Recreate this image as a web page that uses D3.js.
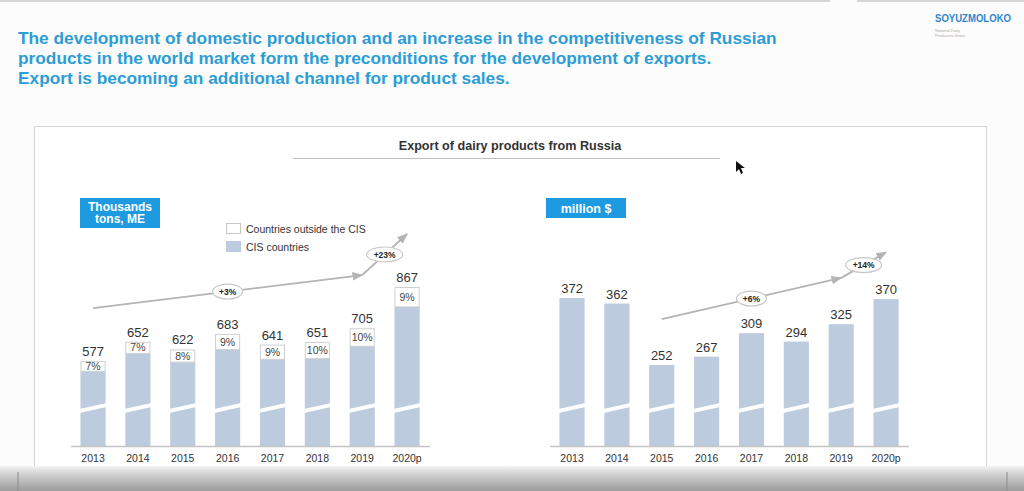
<!DOCTYPE html>
<html>
<head>
<meta charset="utf-8">
<script src="https://cdn.jsdelivr.net/npm/d3@7/dist/d3.min.js"></script>
<style>
  body { margin: 0; background: #fcfcfc; }
  svg { display: block; font-family: "Liberation Sans", Arial, sans-serif; }
</style>
</head>
<body>
<svg id="chart" width="1024" height="491"></svg>
<script>
// data
const years = ['2013', '2014', '2015', '2016', '2017', '2018', '2019', '2020p'];
const volume = [577, 652, 622, 683, 641, 651, 705, 867];      // thousand tons, ME
const outsideShare = [7, 7, 8, 9, 9, 10, 10, 9];              // % to countries outside the CIS
const valueUsd = [372, 362, 252, 267, 309, 294, 325, 370];    // million $

// growth arrows: [from year, level] -> [to year, level], label
const volumeTrend = [
  {from: '2013', to: '2019', y0: 784, y1: 914, label: '+3%'},
  {from: '2019', to: '2020p', y0: 914, y1: 1075, label: '+23%'}
];
const valueTrend = [
  {from: '2015', to: '2019', y0: 334, y1: 408, label: '+6%'},
  {from: '2019', to: '2020p', y0: 408, y1: 454, label: '+14%'}
];

const headerLines = [
  'The development of domestic production and an increase in the competitiveness of Russian',
  'products in the world market form the preconditions for the development of exports.',
  'Export is becoming an additional channel for product sales.'
];

const barColor = '#bccbdd';
const blue = '#1d9ae0';
const arrowGray = '#b4b4b4';
const baseline = 446;

const svg = d3.select('#chart');
const defs = svg.append('defs');

defs.append('marker')
  .attr('id', 'head')
  .attr('viewBox', '0 0 10 10')
  .attr('refX', 9).attr('refY', 5)
  .attr('markerWidth', 6).attr('markerHeight', 6)
  .attr('orient', 'auto')
  .append('path').attr('d', 'M0,1 L10,5 L0,9 Z').attr('fill', arrowGray);

const grad = defs.append('linearGradient').attr('id', 'shade')
  .attr('x1', 0).attr('y1', 0).attr('x2', 0).attr('y2', 1);
grad.append('stop').attr('offset', '0%').attr('stop-color', '#f4f4f4');
grad.append('stop').attr('offset', '25%').attr('stop-color', '#d8d8d8');
grad.append('stop').attr('offset', '100%').attr('stop-color', '#9c9c9c');

// top edge of the screen
svg.append('rect').attr('x', 0).attr('y', 0).attr('width', 830).attr('height', 2).attr('fill', '#d6d6d6');
svg.append('rect').attr('x', 857).attr('y', 0).attr('width', 167).attr('height', 2).attr('fill', '#d6d6d6');

// header
svg.append('g').selectAll('text')
  .data(headerLines)
  .enter().append('text')
  .attr('x', 18)
  .attr('y', (d, i) => 44 + i * 20)
  .attr('fill', '#2c9dd6')
  .attr('font-size', 17.3)
  .attr('font-weight', 'bold')
  .text(d => d);

// logo
svg.append('text').attr('x', 935).attr('y', 22)
  .attr('fill', '#2f86c8').attr('font-size', 10.5).attr('font-weight', 'bold')
  .attr('textLength', 76).attr('lengthAdjust', 'spacingAndGlyphs')
  .text('SOYUZMOLOKO');
svg.append('text').attr('x', 935).attr('y', 32)
  .attr('fill', '#aaa').attr('font-size', 4).text('National Dairy');
svg.append('text').attr('x', 935).attr('y', 37)
  .attr('fill', '#aaa').attr('font-size', 4).text('Producers Union');

// panel
svg.append('rect')
  .attr('x', 34.5).attr('y', 126.5).attr('width', 952).attr('height', 360)
  .attr('fill', '#ffffff').attr('stroke', '#d4d4d4');

svg.append('text').attr('x', 510).attr('y', 150)
  .attr('text-anchor', 'middle').attr('fill', '#333').attr('font-size', 12.6).attr('font-weight', 'bold')
  .text('Export of dairy products from Russia');
svg.append('line').attr('x1', 293).attr('x2', 720).attr('y1', 158.5).attr('y2', 158.5)
  .attr('stroke', '#bdbdbd').attr('stroke-width', 1.2);

// mouse cursor
svg.append('path')
  .attr('d', 'M736,161 L736,172 L739,169 L741,174 L743,173 L741,168 L745,168 Z')
  .attr('fill', '#111');

function unitBox(x, y, w, h, size, lines) {
  svg.append('rect').attr('x', x).attr('y', y).attr('width', w).attr('height', h)
    .attr('fill', blue);
  svg.append('g').selectAll('text').data(lines).enter().append('text')
    .attr('x', x + w / 2)
    .attr('y', (d, i) => y + h / 2 + size * 0.36 + (i - (lines.length - 1) / 2) * 12)
    .attr('text-anchor', 'middle')
    .attr('fill', '#fff').attr('font-size', size).attr('font-weight', 'bold')
    .text(d => d);
}

function buildChart(opts) {
  const x = d3.scaleBand()
    .domain(years)
    .range(opts.xRange)
    .paddingInner(0.44)
    .paddingOuter(0.22);

  const y = d3.scaleLinear()
    .domain(opts.yDomain)
    .range([baseline, opts.topPx]);

  const g = svg.append('g');
  const rows = years.map((yr, i) => ({
    year: yr,
    total: opts.values[i],
    share: opts.shares ? opts.shares[i] : null
  }));

  // CIS part (or whole bar)
  g.selectAll('rect.bar')
    .data(rows)
    .enter().append('rect')
    .attr('class', 'bar')
    .attr('x', d => x(d.year))
    .attr('width', x.bandwidth())
    .attr('y', d => d.share == null ? y(d.total) : y(d.total * (1 - d.share / 100)))
    .attr('height', d => baseline - (d.share == null ? y(d.total) : y(d.total * (1 - d.share / 100))))
    .attr('fill', barColor);

  // outside CIS part with share
  if (opts.shares) {
    const seg = g.selectAll('g.share')
      .data(rows)
      .enter().append('g').attr('class', 'share');
    seg.append('rect')
      .attr('x', d => x(d.year) + 0.5)
      .attr('width', x.bandwidth() - 1)
      .attr('y', d => y(d.total) + 0.5)
      .attr('height', d => y(d.total * (1 - d.share / 100)) - y(d.total) - 0.5)
      .attr('fill', '#fff')
      .attr('stroke', '#cfcfcf');
    seg.append('text')
      .attr('x', d => x(d.year) + x.bandwidth() / 2)
      .attr('y', d => (y(d.total) + y(d.total * (1 - d.share / 100))) / 2 + 3.8)
      .attr('text-anchor', 'middle')
      .attr('fill', '#444').attr('font-size', 10.5)
      .text(d => d.share + '%');
  }

  // axis break stripe
  g.selectAll('path.brk')
    .data(rows)
    .enter().append('path')
    .attr('class', 'brk')
    .attr('d', d => {
      const x0 = x(d.year) - 1, x1 = x(d.year) + x.bandwidth() + 1, c = baseline - 38;
      return `M${x0},${c + 1} L${x1},${c - 5} L${x1},${c - 1} L${x0},${c + 5} Z`;
    })
    .attr('fill', '#fff');

  // totals
  g.selectAll('text.val')
    .data(rows)
    .enter().append('text')
    .attr('class', 'val')
    .attr('x', d => x(d.year) + x.bandwidth() / 2)
    .attr('y', d => y(d.total) - 5)
    .attr('text-anchor', 'middle')
    .attr('fill', '#333').attr('font-size', 13)
    .text(d => d.total);

  // x axis
  const axis = g.append('g')
    .attr('transform', `translate(0,${baseline})`)
    .call(d3.axisBottom(x).tickSize(0).tickPadding(9));
  axis.select('.domain').attr('stroke', '#c4c4c4').attr('stroke-width', 1.3);
  axis.selectAll('text').attr('fill', '#333').attr('font-size', 10.5)
    .attr('font-family', '"Liberation Sans", Arial, sans-serif');

  // growth arrows
  const cx = yr => x(yr) + x.bandwidth() / 2;
  opts.trend.forEach(t => {
    g.append('line')
      .attr('x1', cx(t.from)).attr('y1', y(t.y0))
      .attr('x2', cx(t.to)).attr('y2', y(t.y1))
      .attr('stroke', arrowGray).attr('stroke-width', 1.8)
      .attr('marker-end', 'url(#head)');
  });
  opts.trend.forEach(t => {
    const mx = (cx(t.from) + cx(t.to)) / 2;
    const my = (y(t.y0) + y(t.y1)) / 2;
    const rx = t.label.length > 3 ? 18 : 15;
    g.append('ellipse').attr('cx', mx).attr('cy', my).attr('rx', rx).attr('ry', 7.5)
      .attr('fill', '#fff').attr('stroke', '#c8c8c8').attr('stroke-width', 1.2);
    g.append('text').attr('x', mx).attr('y', my + 3.2)
      .attr('text-anchor', 'middle').attr('fill', '#222')
      .attr('font-size', 8.5).attr('font-weight', 'bold')
      .text(t.label);
  });
}

unitBox(80, 198, 80, 30, 12, ['Thousands', 'tons, ME']);
unitBox(546, 198, 80, 20, 12.5, ['million $']);

// legend
svg.append('rect').attr('x', 226.5).attr('y', 223.5).attr('width', 14).attr('height', 10)
  .attr('fill', '#fff').attr('stroke', '#c8c8c8');
svg.append('rect').attr('x', 226).attr('y', 241).attr('width', 15).attr('height', 11)
  .attr('fill', barColor);
svg.append('text').attr('x', 246).attr('y', 232.5).attr('font-size', 10.5).attr('fill', '#333')
  .text('Countries outside the CIS');
svg.append('text').attr('x', 246).attr('y', 250.5).attr('font-size', 10.5).attr('fill', '#333')
  .text('CIS countries');

buildChart({
  xRange: [70.6, 429.5],
  yDomain: [243, 867],
  topPx: 287,
  values: volume,
  shares: outsideShare,
  trend: volumeTrend
});

buildChart({
  xRange: [549.6, 908.5],
  yDomain: [107, 372],
  topPx: 298,
  values: valueUsd,
  shares: null,
  trend: valueTrend
});

// bottom of the screen
svg.append('rect').attr('x', 0).attr('y', 466).attr('width', 1024).attr('height', 25)
  .attr('fill', 'url(#shade)');
svg.append('line').attr('x1', 18).attr('x2', 18).attr('y1', 472).attr('y2', 491).attr('stroke', '#8c8c8c');
svg.append('line').attr('x1', 1007).attr('x2', 1007).attr('y1', 472).attr('y2', 491).attr('stroke', '#8c8c8c');
</script>
</body>
</html>
